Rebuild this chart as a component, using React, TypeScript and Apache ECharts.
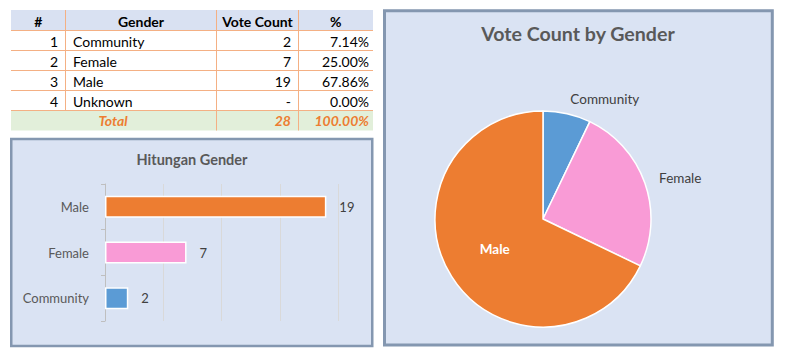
import React, { useEffect, useRef } from "react";
import * as echarts from "echarts";

// ---- data ----
const tableHeaders = ["#", "Gender", "Vote Count", "%"];
const genders = ["Community", "Female", "Male", "Unknown"];
const voteCounts = [2, 7, 19, 0];
const genderColors = ["#5b9bd5", "#f99bd6", "#ed7d31", "#a5a5a5"];
const totalLabel = "Total";
const barTitle = "Hitungan Gender";
const pieTitle = "Vote Count by Gender";
const barAxisMax = 20;
const barAxisInterval = 5;

const FONT = "Lato, 'Open Sans', sans-serif";

export default function App() {
  const ref = useRef<HTMLDivElement>(null);

  useEffect(() => {
    document.body.style.margin = "0";
    const chart = echarts.init(ref.current!, undefined, { renderer: "svg" });

    const total = voteCounts.reduce((a, b) => a + b, 0);
    const pct = (v: number) => ((v / total) * 100).toFixed(2) + "%";

    // table geometry
    const colX = [11, 65.5, 216.5, 298.5, 373];
    const rowY = [10, 30.5, 50.5, 70.5, 90.5, 110.5, 130.5];
    const lineColor = "#f4b084";
    const g: any[] = [];

    // panels
    g.push({
      type: "rect",
      z: -10,
      shape: { x: 11.25, y: 139, width: 361, height: 207 },
      style: { fill: "#dae3f3", stroke: "#8497b0", lineWidth: 2.5 },
    });
    g.push({
      type: "rect",
      z: -10,
      shape: { x: 384.5, y: 10.8, width: 387.8, height: 334.2 },
      style: { fill: "#dae3f3", stroke: "#8497b0", lineWidth: 3 },
    });

    // table backgrounds
    g.push({
      type: "rect",
      shape: { x: colX[0], y: rowY[0], width: colX[4] - colX[0], height: rowY[1] - rowY[0] },
      style: { fill: "#d9e1f2" },
    });
    g.push({
      type: "rect",
      shape: { x: colX[0], y: rowY[5], width: colX[4] - colX[0], height: rowY[6] - rowY[5] },
      style: { fill: "#e2efda" },
    });
    // horizontal lines
    for (let i = 1; i <= 5; i++) {
      g.push({
        type: "line",
        shape: { x1: colX[0], y1: rowY[i], x2: colX[4], y2: rowY[i] },
        style: { stroke: lineColor, lineWidth: 1 },
      });
    }
    // vertical lines
    g.push({
      type: "line",
      shape: { x1: colX[1], y1: rowY[0], x2: colX[1], y2: rowY[5] },
      style: { stroke: lineColor, lineWidth: 1 },
    });
    [2, 3].forEach((c) =>
      g.push({
        type: "line",
        shape: { x1: colX[c], y1: rowY[0], x2: colX[c], y2: rowY[6] },
        style: { stroke: lineColor, lineWidth: 1 },
      })
    );

    const txt = (text: string, x: number, y: number, align: string, extra: any = {}) => ({
      type: "text",
      z: 10,
      x,
      y,
      style: {
        text,
        fill: "#000000",
        fontSize: 14,
        fontFamily: FONT,
        align,
        verticalAlign: "middle",
        ...extra,
      },
    });

    // header
    tableHeaders.forEach((h, i) => {
      g.push(txt(h, (colX[i] + colX[i + 1]) / 2, 21, "center", { fontWeight: "bold" }));
    });
    // rows
    genders.forEach((name, i) => {
      const y = (rowY[i + 1] + rowY[i + 2]) / 2 + 1;
      g.push(txt(String(i + 1), 58, y, "right"));
      g.push(txt(name, 73, y, "left"));
      g.push(txt(voteCounts[i] === 0 ? "-" : String(voteCounts[i]), 291, y, "right"));
      g.push(txt(pct(voteCounts[i]), 369, y, "right"));
    });
    // total
    const totStyle = { fontWeight: "bold", fontStyle: "italic", fill: "#ed7d31" };
    g.push(txt(totalLabel, 113, 120.5, "center", totStyle));
    g.push(txt(String(total), 291, 120.5, "right", totStyle));
    g.push(txt(pct(total), 369, 120.5, "right", totStyle));

    // titles
    g.push(
      txt(barTitle, 192, 159, "center", { fontWeight: "bold", fontSize: 14.5, fill: "#595959" })
    );
    g.push(
      txt(pieTitle, 578, 33, "center", { fontWeight: "bold", fontSize: 19.6, fill: "#595959" })
    );

    const shown = genders
      .map((name, i) => ({ name, value: voteCounts[i], color: genderColors[i] }))
      .filter((d) => d.value > 0);

    chart.setOption({
      animation: false,
      textStyle: { fontFamily: FONT },
      graphic: { elements: g },
      grid: { left: 105, top: 184, width: 233, height: 137 },
      xAxis: {
        type: "value",
        min: 0,
        max: barAxisMax,
        interval: barAxisInterval,
        axisLabel: { show: false },
        axisLine: { show: false },
        axisTick: { show: false },
        splitLine: { lineStyle: { color: "#d9d9d9", width: 1 } },
      },
      yAxis: {
        type: "category",
        data: shown.map((d) => d.name),
        axisLine: { lineStyle: { color: "#bfbfbf" } },
        axisTick: { show: true, length: 4, lineStyle: { color: "#bfbfbf" } },
        axisLabel: { color: "#595959", fontSize: 13, margin: 16, fontFamily: FONT },
      },
      series: [
        {
          type: "bar",
          barWidth: 22,
          data: shown.map((d) => ({
            value: d.value,
            itemStyle: { color: d.color },
          })),
          itemStyle: { borderColor: "#ffffff", borderWidth: 1.5 },
          label: {
            show: true,
            position: "right",
            distance: 13,
            color: "#404040",
            fontSize: 13,
            fontFamily: FONT,
          },
        },
        {
          type: "pie",
          center: [543, 219],
          radius: 108,
          startAngle: 90,
          clockwise: true,
          avoidLabelOverlap: false,
          itemStyle: { borderColor: "#ffffff", borderWidth: 1.5 },
          label: {
            show: true,
            position: "outside",
            formatter: "{b}",
            color: "#404040",
            fontSize: 13.5,
            fontFamily: FONT,
            distanceToLabelLine: 0,
          },
          labelLine: { show: false, length: 15, length2: 0 },
          data: shown.map((d) => ({
            name: d.name,
            value: d.value,
            itemStyle: { color: d.color },
            label:
              d.name === "Male"
                ? { position: "inside", color: "#ffffff", fontWeight: "bold" }
                : undefined,
          })),
        },
      ],
    });

    return () => chart.dispose();
  }, []);

  return (
    <div
      ref={ref}
      style={{ position: "absolute", left: 0, top: 0, width: 785, height: 356, background: "#ffffff" }}
    />
  );
}
